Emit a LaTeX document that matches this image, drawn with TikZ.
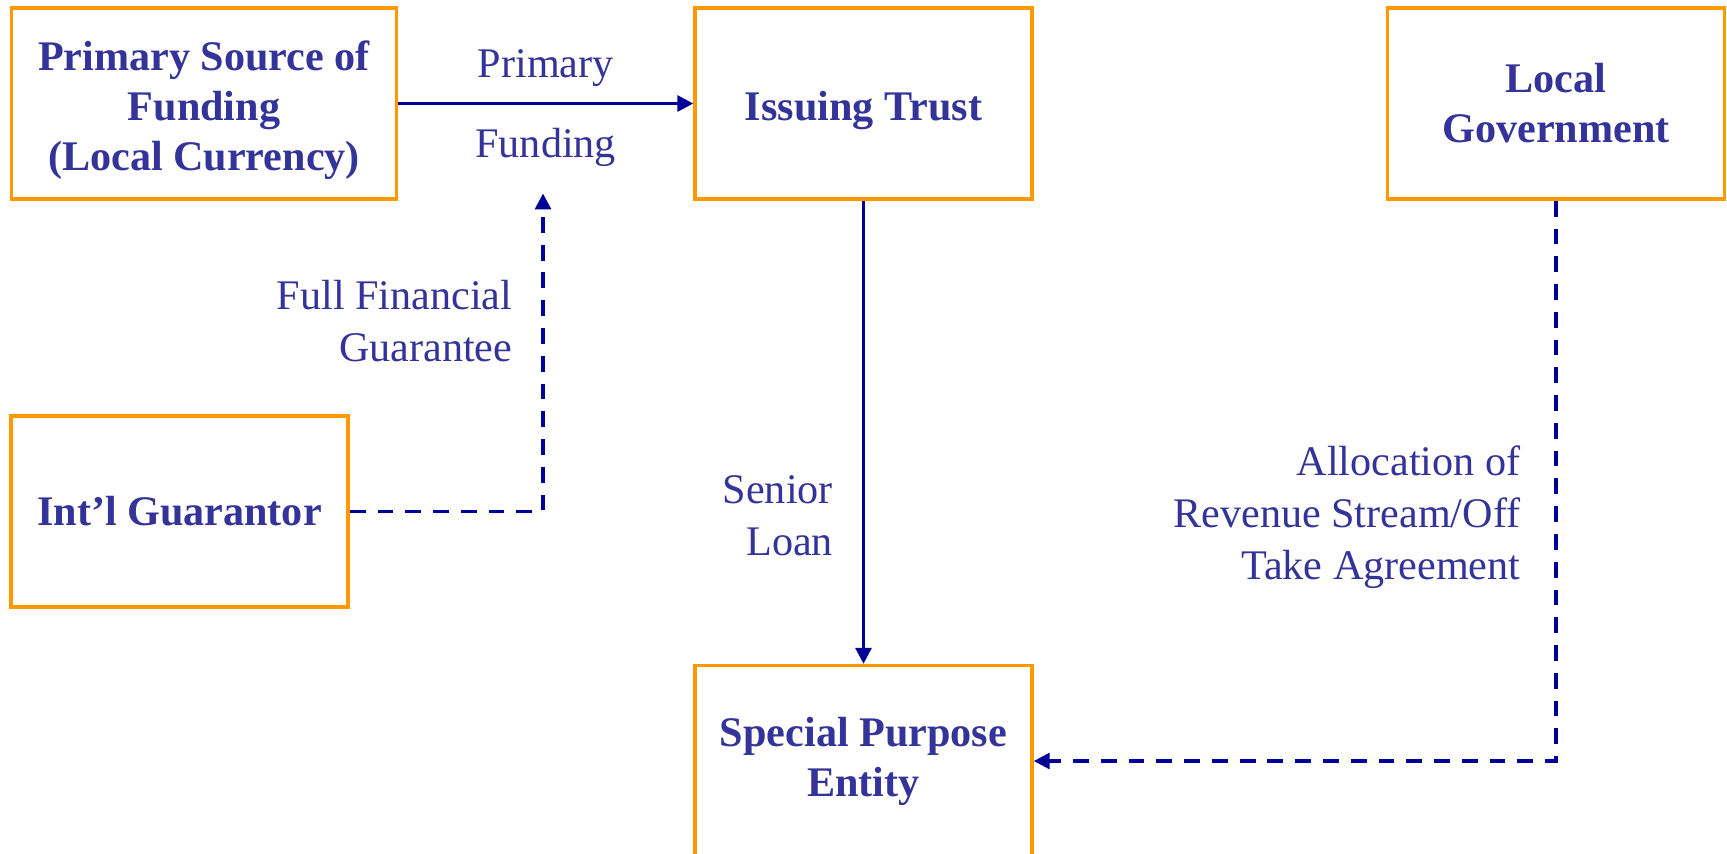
\documentclass[tikz,border=0pt]{standalone}
\usepackage{fontspec}
\setmainfont{Liberation Serif}
\usepackage{tikz}
\usetikzlibrary{positioning, arrows.meta}

\definecolor{boxorange}{HTML}{FF9900}
\definecolor{txtblue}{HTML}{333399}
\definecolor{linkblue}{HTML}{000099}

\tikzset{
  party/.style={draw=boxorange, line width=1pt, minimum width=3.37cm, minimum height=1.91cm,
    align=center, text=txtblue, font=\fontsize{12}{14.2}\selectfont\bfseries},
  flow/.style={draw=linkblue, line width=0.9pt, -{Triangle[length=4.5pt,width=4.5pt]}},
  promise/.style={flow, dash pattern=on 4.5pt off 3.4pt},
  tag/.style={text=txtblue, font=\fontsize{12}{14.8}\selectfont, inner sep=0pt, align=right}
}

\begin{document}
\begin{tikzpicture}[node distance=6cm, on grid]
   \useasboundingbox (-2.04,1.035) rectangle (15.23,-7.495);

   % 各参与方
   \node[party, minimum width=3.85cm, text height=40.7pt] (primary) {Primary Source of\\Funding\\(Local Currency)};
   \node[party, text height=12.5pt] (issuing) [right=6.595cm of primary] {Issuing Trust};
   \node[party] (locgov) [right=6.925cm of issuing] {Local\\Government};
   \node[party] (guarantor) [below=4.08cm of primary, xshift=-0.245cm] {Int'l Guarantor};
   \node[party] (spe) [below=6.575cm of issuing] {Special Purpose\\Entity};
   \coordinate[below right=0.9cm and 3.39cm of primary] (guartip);

   % 资金流向
   \path
   (primary) edge[flow] node[tag, above=4.5pt] {Primary}
                        node[tag, below=6.6pt] {Funding} (issuing)
   (issuing) edge[flow] node[tag, pos=0.68, left=0.29cm] {Senior\\Loan} (spe);

   % 担保与收入安排
   \draw[promise] (guarantor) -| node[tag, pos=0.8, left=0.29cm] {Full Financial\\Guarantee} (guartip);
   \draw[promise] (locgov) |- node[tag, pos=0.282, left=0.34cm] {Allocation of\\Revenue Stream/Off\\Take Agreement} (spe);
\end{tikzpicture}
\end{document}
